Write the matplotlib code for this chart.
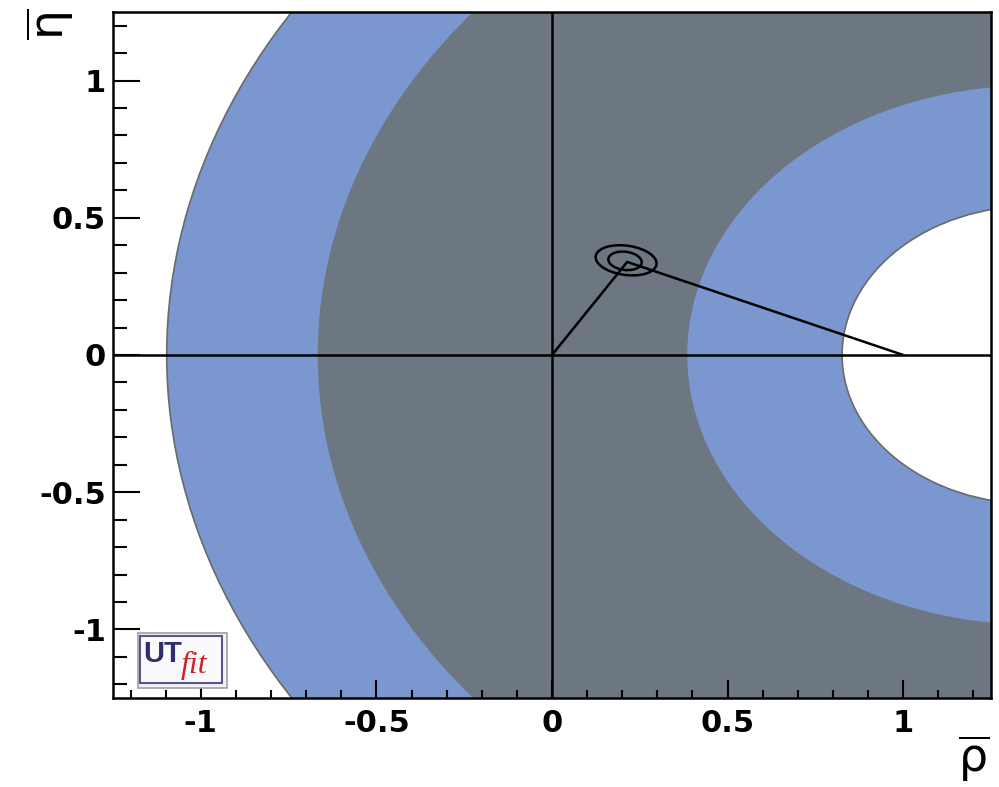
import matplotlib.pyplot as plt
from matplotlib.patches import Circle, Ellipse, Rectangle

plt.rcParams['font.family'] = ['DejaVu Sans']
plt.rcParams['axes.unicode_minus'] = False

# ring-shaped constraint: each boundary is a circle (center on rho axis, radius)
ring_centers = [1.275, 1.321, 1.367, 1.369]
ring_radii = [2.372, 1.988, 0.982, 0.543]
ring_colors = ['#7a97d0', '#6d7781', '#7a97d0', 'white']
ring_edges = ['#6a6a6a', 'none', 'none', '#6a6a6a']

# fit result: apex of the triangle and its probability contours
apex_rho = 0.214
apex_eta = 0.339
contour_rho = [0.211, 0.208]
contour_eta = [0.345, 0.343]
contour_w = [0.176, 0.096]
contour_h = [0.106, 0.066]

tick_vals = [-1, -0.5, 0, 0.5, 1]
tick_text = ['-1', '-0.5', '0', '0.5', '1']

fig = plt.figure(figsize=(9.99, 7.87), dpi=100)
ax = fig.add_axes([0.1131, 0.1131, 0.8789, 0.8717])
ax.set_xlim(-1.25, 1.25)
ax.set_ylim(-1.25, 1.25)

# bands
for c, r, col, ec in zip(ring_centers, ring_radii, ring_colors, ring_edges):
    ax.add_patch(Circle((c, 0), r, facecolor=col, edgecolor=ec, lw=1.2, zorder=1))

# axes through origin
ax.axhline(0, color='black', lw=1.8, zorder=3)
ax.axvline(0, color='black', lw=1.8, zorder=3)

# triangle sides
ax.plot([0, apex_rho, 1], [0, apex_eta, 0], color='black', lw=1.8, zorder=4)

# contours
for x, y, w, h in zip(contour_rho, contour_eta, contour_w, contour_h):
    ax.add_patch(Ellipse((x, y), w, h, angle=-12, fill=False,
                         edgecolor='black', lw=1.8, zorder=5))

# ticks
ax.set_xticks(tick_vals)
ax.set_xticklabels(tick_text)
ax.set_yticks(tick_vals)
ax.set_yticklabels(tick_text)
ax.set_xticks([i / 10 for i in range(-12, 13)], minor=True)
ax.set_yticks([i / 10 for i in range(-12, 13)], minor=True)
ax.tick_params(axis='x', which='major', direction='in', length=13, width=1.5, pad=8)
ax.tick_params(axis='x', which='minor', direction='in', length=6, width=1.5)
ax.tick_params(axis='y', which='major', direction='in', length=19.5, width=1.5, pad=5)
ax.tick_params(axis='y', which='minor', direction='in', length=10, width=1.5)
for lab in ax.get_xticklabels() + ax.get_yticklabels():
    lab.set_fontsize(22)
    lab.set_fontweight('bold')
for s in ax.spines.values():
    s.set_linewidth(1.8)
    s.set_zorder(6)

# axis titles
fig.text(0.051, 0.9695, r'$\overline{\mathrm{\eta}}$', rotation=90, fontsize=34,
         ha='center', va='center')
fig.text(0.975, 0.036, r'$\overline{\mathrm{\rho}}$', fontsize=33,
         ha='center', va='center')

# UTfit logo
ax.add_patch(Rectangle((0.0285, 0.0146), 0.1015, 0.0802, transform=ax.transAxes,
                       facecolor='#f2f2f6', edgecolor='#a0a0a0', lw=1.2, zorder=7))
ax.add_patch(Rectangle((0.031, 0.0219), 0.093, 0.0685, transform=ax.transAxes,
                       facecolor='#fafafc', edgecolor='#55558f', lw=1.5, zorder=7))
ax.text(0.034, 0.064, 'UT', transform=ax.transAxes, fontsize=21, fontweight='bold',
        family='Liberation Sans', color='#2e2e6e', ha='left', va='center', zorder=8)
ax.text(0.077, 0.047, 'fit', transform=ax.transAxes, fontsize=23, style='italic',
        family='Liberation Serif', color='#d0202a', ha='left', va='center', zorder=8)

fig.savefig('out.png', dpi=100)
